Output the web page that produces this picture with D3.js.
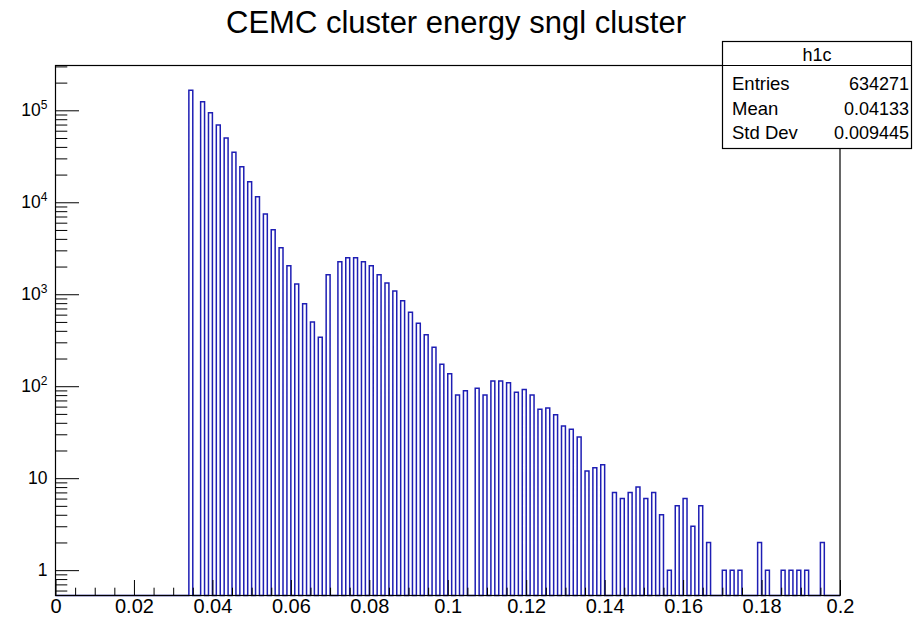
<!DOCTYPE html>
<html>
<head>
<meta charset="utf-8">
<script src="https://cdn.jsdelivr.net/npm/d3@7"></script>
<style>
  html, body { margin: 0; padding: 0; background: #fff; }
  svg { display: block; }
  text { font-family: "Liberation Sans", Arial, Helvetica, sans-serif; fill: #000; }
</style>
</head>
<body>
<svg id="chart" width="914" height="626"></svg>
<script>
// ---- data ----
const chartTitle = "CEMC cluster energy sngl cluster";
const binWidth = 0.001;
const binCenters = [
  0.0345, 0.0375, 0.0395, 0.0415, 0.0435, 0.0455, 0.0475, 0.0495, 0.0515, 0.0535,
  0.0555, 0.0575, 0.0595, 0.0615, 0.0635, 0.0655, 0.0675, 0.0695, 0.0725, 0.0745,
  0.0765, 0.0785, 0.0805, 0.0825, 0.0845, 0.0865, 0.0885, 0.0905, 0.0925, 0.0945,
  0.0965, 0.0985, 0.1005, 0.1025, 0.1045, 0.1075, 0.1095, 0.1115, 0.1135, 0.1155,
  0.1175, 0.1195, 0.1215, 0.1235, 0.1255, 0.1275, 0.1295, 0.1315, 0.1335, 0.1355,
  0.1375, 0.1395, 0.1425, 0.1445, 0.1465, 0.1485, 0.1505, 0.1525, 0.1545, 0.1565,
  0.1585, 0.1605, 0.1625, 0.1645, 0.1665, 0.1705, 0.1725, 0.1745, 0.1795, 0.1815,
  0.1855, 0.1875, 0.1895, 0.1915, 0.1955
];
const counts = [
  165000, 124000, 94000, 69000, 50000, 34900, 24400, 16700, 11500, 7450,
  5030, 3210, 2040, 1290, 790, 500, 340, 1630, 2260, 2500,
  2500, 2260, 2040, 1630, 1325, 1084, 850, 636, 483, 363,
  265, 173, 137, 80, 89, 95, 80, 114, 114, 109,
  86, 92, 80, 56, 58, 49, 37, 34, 28, 12,
  13, 14, 7, 6, 7, 8, 6, 7, 4, 1,
  5, 6, 3, 5, 2, 1, 1, 1, 2, 1,
  1, 1, 1, 1, 2
];
const xDomain = [0, 0.2];
const yDomain = [0.53, 3.07e5];
const xMajorTicks = [0, 0.02, 0.04, 0.06, 0.08, 0.1, 0.12, 0.14, 0.16, 0.18, 0.2];
const xTickLabels = ["0", "0.02", "0.04", "0.06", "0.08", "0.1", "0.12", "0.14", "0.16", "0.18", "0.2"];
const yMajorTicks = [1, 10, 100, 1000, 10000, 100000];
const yTickBase = ["1", "10", "10", "10", "10", "10"];
const yTickExp = ["", "", "2", "3", "4", "5"];
const statsTitle = "h1c";
const statsLabels = ["Entries", "Mean", "Std Dev"];
const statsValues = ["634271", "0.04133", "0.009445"];

// ---- layout ----
const L = 55.5, R = 840, T = 65.5, B = 595.5;
const svg = d3.select("#chart");
const x = d3.scaleLinear().domain(xDomain).range([L, R]);
const y = d3.scaleLog().domain(yDomain).range([B, T]);

// title
svg.append("text").attr("x", 456).attr("y", 33).attr("text-anchor", "middle")
  .style("font-size", "31px").text(chartTitle);

// histogram outline
let p = d3.path();
p.moveTo(x(xDomain[0]), B);
binCenters.forEach((c, i) => {
  const x0 = x(c - binWidth / 2), x1 = x(c + binWidth / 2);
  p.lineTo(x0, B);
  p.lineTo(x0, y(counts[i]));
  p.lineTo(x1, y(counts[i]));
  p.lineTo(x1, B);
});
p.lineTo(x(xDomain[1]), B);
svg.append("path").attr("d", p.toString()).attr("fill", "none")
  .attr("stroke", "#1e1eb4").attr("stroke-width", 1.5);

// x axis (ticks pointing up)
const xMinor = d3.range(0, 0.2001, 0.005).filter(v => Math.abs(v / 0.02 - Math.round(v / 0.02)) > 1e-6);
svg.append("g").attr("transform", `translate(0,${B})`)
  .call(d3.axisBottom(x).tickValues(xMinor).tickSize(-7.8).tickFormat(""))
  .call(g => { g.select(".domain").remove(); g.selectAll("line").attr("stroke", "#000"); });
const gx = svg.append("g").attr("transform", `translate(0,${B})`)
  .call(d3.axisBottom(x).tickValues(xMajorTicks).tickSize(-15.5).tickPadding(3)
    .tickFormat((d, i) => xTickLabels[i]))
  .call(g => { g.select(".domain").remove(); g.selectAll("line").attr("stroke", "#000"); });
gx.selectAll("text").style("font-size", "20px").attr("font-family", null).attr("fill", "#000")
  .attr("dy", "0.71em");

// y axis (ticks pointing right)
const yMinor = [];
[0.1, 1, 10, 100, 1000, 10000, 100000].forEach(dec => {
  for (let k = 2; k <= 9; k++) {
    const v = dec * k;
    if (v >= yDomain[0] && v <= yDomain[1]) yMinor.push(v);
  }
});
svg.append("g").attr("transform", `translate(${L},0)`)
  .call(d3.axisLeft(y).tickValues(yMinor).tickSize(-11.8).tickFormat(""))
  .call(g => { g.select(".domain").remove(); g.selectAll("line").attr("stroke", "#000"); });
svg.append("g").attr("transform", `translate(${L},0)`)
  .call(d3.axisLeft(y).tickValues(yMajorTicks).tickSize(-23.5).tickFormat(""))
  .call(g => { g.select(".domain").remove(); g.selectAll("line").attr("stroke", "#000"); });
yMajorTicks.forEach((v, i) => {
  const t = svg.append("text").attr("x", 47.5).attr("y", y(v) + 6)
    .attr("text-anchor", "end").style("font-size", "17.5px");
  t.append("tspan").text(yTickBase[i]);
  if (yTickExp[i]) t.append("tspan").attr("dy", -7).style("font-size", "12px").text(yTickExp[i]);
});

// frame
svg.append("rect").attr("x", L).attr("y", T).attr("width", R - L).attr("height", B - T)
  .attr("fill", "none").attr("stroke", "#000").attr("stroke-width", 1.2);

// stats box
const sx0 = 722.5, sx1 = 911.5, sy0 = 41.5, sy1 = 148.5;
svg.append("rect").attr("x", sx0).attr("y", sy0).attr("width", sx1 - sx0).attr("height", sy1 - sy0)
  .attr("fill", "#fff").attr("stroke", "#000").attr("stroke-width", 1.2);
svg.append("line").attr("x1", sx0).attr("x2", sx1).attr("y1", T).attr("y2", T)
  .attr("stroke", "#000").attr("stroke-width", 1.2);
svg.append("text").attr("x", (sx0 + sx1) / 2).attr("y", 61).attr("text-anchor", "middle")
  .style("font-size", "18px").text(statsTitle);
const rowY = [90, 115, 139];
statsLabels.forEach((s, i) => {
  svg.append("text").attr("x", 732).attr("y", rowY[i]).style("font-size", "18.5px").text(s);
  svg.append("text").attr("x", 909).attr("y", rowY[i]).attr("text-anchor", "end")
    .style("font-size", "18px").text(statsValues[i]);
});
</script>
</body>
</html>
